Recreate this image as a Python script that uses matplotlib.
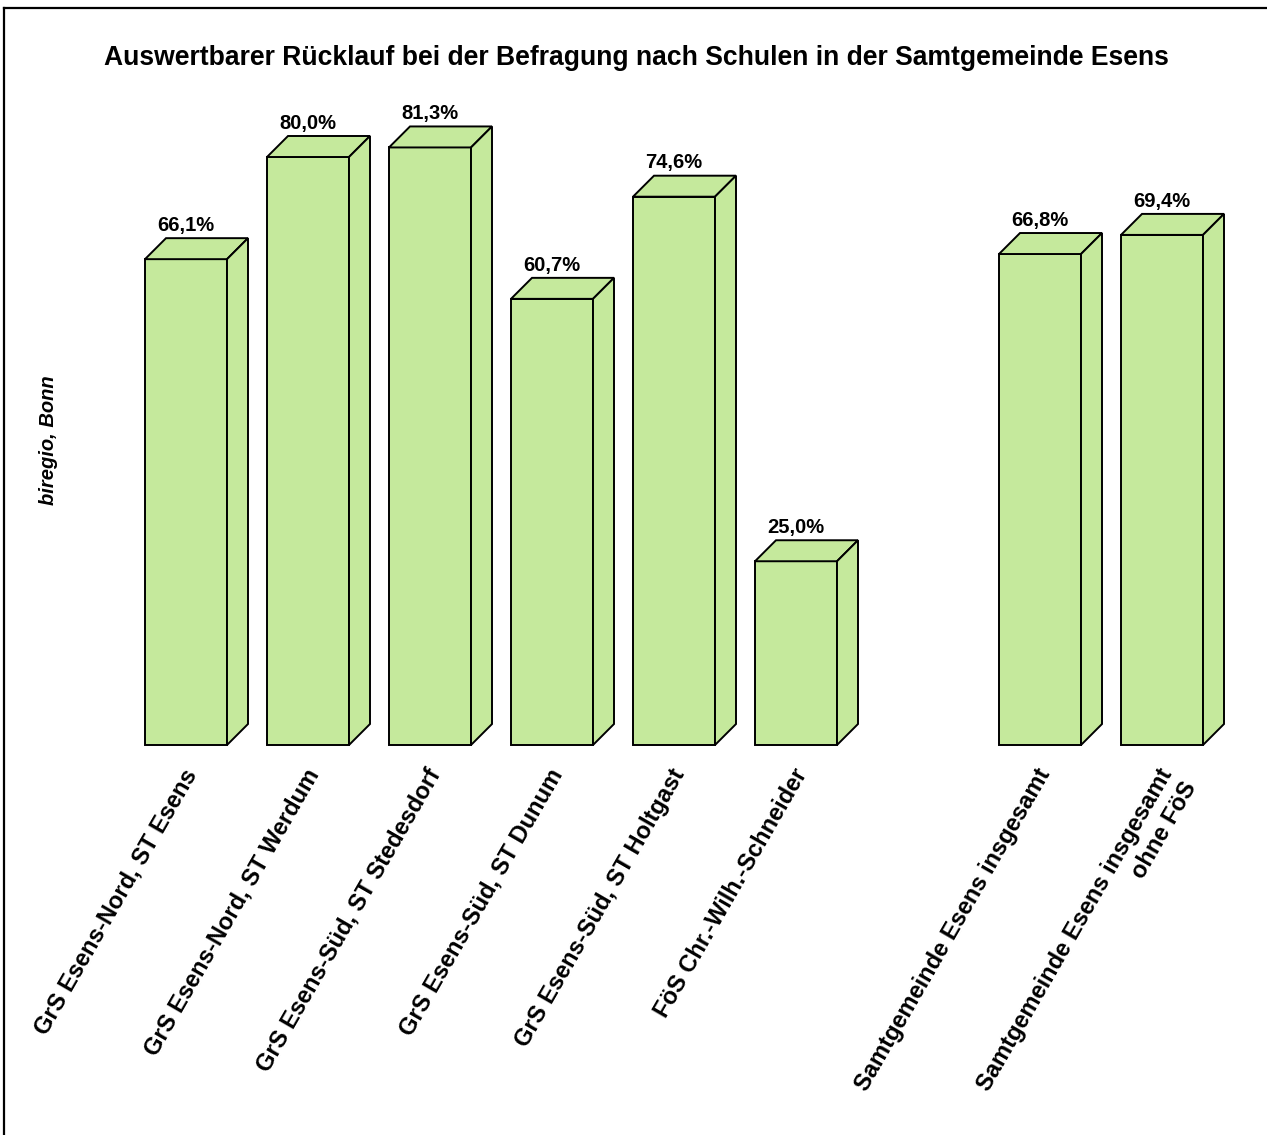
import numpy as np
import matplotlib
matplotlib.use("Agg")
import matplotlib.pyplot as plt
from matplotlib.patches import Polygon
from matplotlib.lines import Line2D

plt.rcParams['font.family'] = ['Liberation Sans', 'DejaVu Sans']

# Response rates per school (empty slot separates the totals)
categories = [
    "GrS Esens-Nord, ST Esens",
    "GrS Esens-Nord, ST Werdum",
    "GrS Esens-Süd, ST Stedesdorf",
    "GrS Esens-Süd, ST Dunum",
    "GrS Esens-Süd, ST Holtgast",
    "FöS Chr.-Wilh.-Schneider",
    "",
    "Samtgemeinde Esens insgesamt",
    "Samtgemeinde Esens insgesamt\nohne FöS",
]
values = [66.1, 80.0, 81.3, 60.7, 74.6, 25.0, np.nan, 66.8, 69.4]
value_labels = ["66,1%", "80,0%", "81,3%", "60,7%", "74,6%", "25,0%", "", "66,8%", "69,4%"]

title = "Auswertbarer Rücklauf bei der Befragung nach Schulen in der Samtgemeinde Esens"
source = "biregio, Bonn"

W, H = 1267, 1135
fig = plt.figure(figsize=(W / 100, H / 100), dpi=100)

# plot area in pixel terms
left_px, right_px = 125, 1223
bottom_px, top_px = 745, 10
ax = fig.add_axes([left_px / W, 1 - bottom_px / H,
                   (right_px - left_px) / W, (bottom_px - top_px) / H])
ax.set_xlim(-0.5, len(categories) - 0.5)
ax.set_ylim(0, 100)
ax.axis('off')

face = "#c5e99c"
lw = 1.4
bar_w = 82 / 122
dx = 21 / 122
dy = 21 / 7.35

x = np.arange(len(categories))
for xi, v, lab in zip(x, values, value_labels):
    if np.isnan(v):
        continue
    x0, x1 = xi - bar_w / 2, xi + bar_w / 2
    ax.bar(xi, v, width=bar_w, color=face, edgecolor='black', linewidth=lw,
           clip_on=False, zorder=3)
    top = Polygon([(x0, v), (x1, v), (x1 + dx, v + dy), (x0 + dx, v + dy)],
                  closed=True, facecolor=face, edgecolor='black', linewidth=lw,
                  clip_on=False, zorder=3, joinstyle='miter')
    side = Polygon([(x1, 0), (x1 + dx, dy), (x1 + dx, v + dy), (x1, v)],
                   closed=True, facecolor=face, edgecolor='black', linewidth=lw,
                   clip_on=False, zorder=3, joinstyle='miter')
    ax.add_patch(top)
    ax.add_patch(side)
    ax.text(xi, v + dy + 1.0, lab, ha='center', va='baseline',
            fontsize=14.5, fontweight='bold', zorder=4)

# rotated category labels below the bars
for xi, cat in zip(x, categories):
    if not cat:
        continue
    ax.text(xi - 0.035, -2.7, cat, rotation=60, rotation_mode='anchor',
            ha='right', va='top', multialignment='right',
            fontsize=17, fontweight='bold', clip_on=False)

fig.text(636 / W, 1 - 65 / H, title, ha='center', va='baseline',
         fontsize=19.1, fontweight='bold')
fig.text(49 / W, 1 - 440 / H, source, rotation=90, ha='center', va='center',
         fontsize=14.5, fontweight='bold', fontstyle='italic')

# chart frame (top and left edges visible)
fig.add_artist(Line2D([3.5 / W, 3.5 / W], [0, 1 - 8 / H], color='black', linewidth=1.6))
fig.add_artist(Line2D([3.5 / W, 1], [1 - 8 / H, 1 - 8 / H], color='black', linewidth=1.6))

fig.savefig("out.png", dpi=100)
